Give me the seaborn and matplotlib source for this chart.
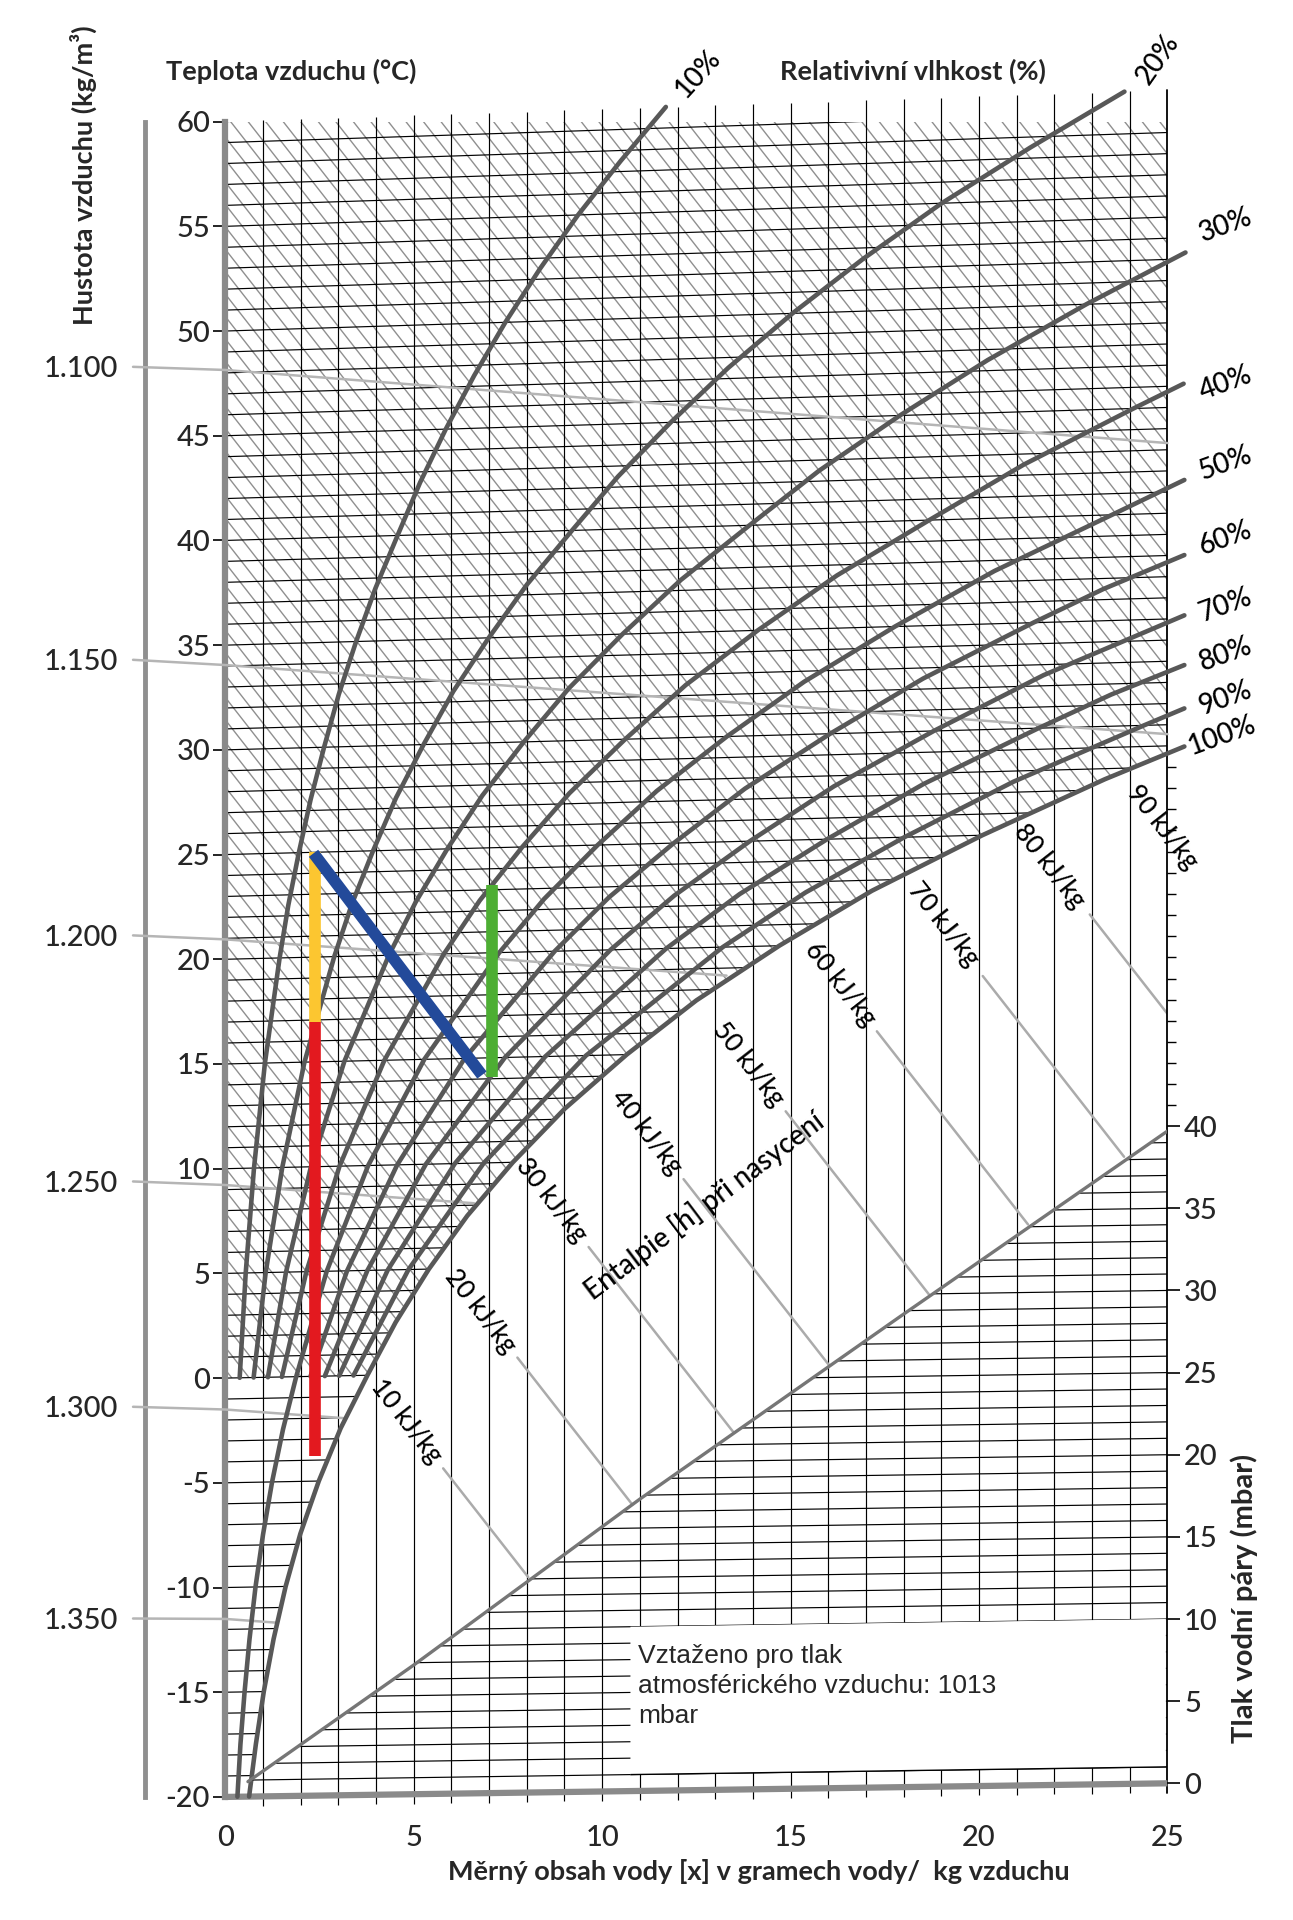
import numpy as np
import matplotlib
matplotlib.use("Agg")
import matplotlib.pyplot as plt
import seaborn as sns
from matplotlib.collections import LineCollection
from matplotlib.patches import Polygon
from matplotlib import font_manager

# osy
t_ticks = list(range(-20, 61, 5))
x_ticks = [0, 5, 10, 15, 20, 25]
p_ticks = [0, 5, 10, 15, 20, 25, 30, 35, 40]

# krivky relativni vlhkosti: teplota [°C] a merny obsah vody [g/kg]
rh10_t = [0, 5, 10, 15, 20, 22.5, 25, 27.5, 30, 32.5, 35, 37.5, 40, 42.5, 45, 47.5, 50, 52.5, 55, 57.5, 60]
rh10_x = [0.38, 0.54, 0.76, 1.05, 1.44, 1.67, 1.95, 2.26, 2.62, 3.01, 3.47, 3.98, 4.57, 5.17, 5.85,
          6.60, 7.43, 8.35, 9.36, 10.49, 11.69]
rh20_t = [0, 5, 10, 15, 20, 22.5, 25, 27.5, 30, 32.5, 35, 37.5, 40, 42.5, 45, 47.5, 50, 52.5, 55, 57.5, 60]
rh20_x = [0.75, 1.07, 1.51, 2.10, 2.89, 3.36, 3.92, 4.53, 5.26, 6.05, 6.99, 8.01, 9.20, 10.42, 11.82,
          13.34, 15.05, 16.94, 19.01, 21.36, 23.86]
rh30_t = [0, 5, 10, 15, 20, 22.5, 25, 27.5, 30, 32.5, 35, 37.5, 40, 42.5, 45, 47.5, 50, 52.3]
rh30_x = [1.13, 1.61, 2.27, 3.16, 4.34, 5.05, 5.89, 6.82, 7.92, 9.12, 10.54, 12.09, 13.91, 15.76, 17.90,
          20.23, 22.85, 25.48]
rh40_t = [0, 5, 10, 15, 20, 22.5, 25, 27.5, 30, 32.5, 35, 37.5, 40, 42.5, 45, 46.1]
rh40_x = [1.50, 2.15, 3.03, 4.22, 5.80, 6.75, 7.88, 9.13, 10.61, 12.22, 14.13, 16.23, 18.68, 21.19, 24.10, 25.43]
rh50_t = [-20, -17.5, -15, -12.5, -10, -7.5, -5, -2.5, 0, 5, 10, 15, 20, 22.5, 25, 27.5, 30, 32.5, 35,
          37.5, 40, 41.55]
rh50_x = [0.32, 0.40, 0.51, 0.64, 0.80, 1.00, 1.24, 1.53, 1.88, 2.69, 3.79, 5.28, 7.27, 8.46, 9.88, 11.45,
          13.31, 15.36, 17.77, 20.41, 23.53, 25.45]
rh60_t = [0, 5, 10, 15, 20, 22.5, 25, 27.5, 30, 32.5, 35, 36.5, 38.0]
rh60_x = [2.26, 3.23, 4.56, 6.35, 8.74, 10.18, 11.90, 13.79, 16.05, 18.52, 21.44, 23.30, 25.45]
rh70_t = [0, 5, 10, 15, 20, 22.5, 25, 27.5, 30, 32.5, 35.15]
rh70_x = [2.64, 3.77, 5.32, 7.42, 10.22, 11.91, 13.92, 16.15, 18.80, 21.71, 25.45]
rh80_t = [0, 5, 10, 15, 20, 22.5, 25, 27.5, 30, 31.5, 32.8]
rh80_x = [3.02, 4.31, 6.09, 8.49, 11.70, 13.65, 15.97, 18.53, 21.58, 23.51, 25.45]
rh90_t = [0, 5, 10, 15, 20, 22.5, 25, 27.5, 30, 30.75]
rh90_x = [3.40, 4.86, 6.86, 9.57, 13.20, 15.40, 18.02, 20.92, 24.38, 25.45]
rh100_t = [-20, -17.5, -15, -12.5, -10, -7.5, -5, -2.5, 0, 2.5, 5, 7.5, 10, 12.5, 15, 17.5, 20, 22.5, 25,
           27.5, 28.95]
rh100_x = [0.63, 0.81, 1.02, 1.28, 1.60, 1.99, 2.48, 3.06, 3.77, 4.52, 5.40, 6.42, 7.63, 9.01, 10.65, 12.50,
           14.70, 17.16, 20.09, 23.34, 25.45]

rh_names = ["10%", "20%", "30%", "40%", "50%", "60%", "70%", "80%", "90%", "100%"]
rh_label_x = [12.55, 24.74, 26.55, 26.55, 26.55, 26.55, 26.55, 26.55, 26.55, 26.45]
rh_label_y = [62.28, 62.99, 55.04, 47.49, 43.71, 40.13, 36.92, 34.56, 32.48, 30.70]
rh_label_rot = [48, 55, 20, 20, 20, 20, 20, 20, 20, 20]

# entalpie pod krivkou nasyceni
h_names = ["10 kJ/kg", "20 kJ/kg", "30 kJ/kg", "40 kJ/kg", "50 kJ/kg",
           "60 kJ/kg", "70 kJ/kg", "80 kJ/kg", "90 kJ/kg"]
h_label_x = [4.80, 6.76, 8.66, 11.18, 13.89, 16.31, 19.05, 21.86, 24.87]
h_label_y = [-2.07, 3.21, 8.50, 11.74, 14.97, 18.79, 21.67, 24.43, 26.31]
h_line_x0 = [5.78, 7.75, 9.64, 12.16, 14.87, 17.29, 20.10, 22.94]
h_line_y0 = [-4.31, 0.98, 6.26, 9.50, 12.74, 16.56, 19.20, 22.14]
h_line_x1 = [8.04, 10.80, 13.49, 16.02, 18.67, 21.30, 23.85, 25.00]
h_line_y1 = [-9.51, -6.04, -2.60, 0.62, 4.00, 7.34, 10.57, 17.40]

# hustota vzduchu
rho_names = ["1.100", "1.150", "1.200", "1.250", "1.300", "1.350"]
rho_y_left = [48.29, 34.30, 21.14, 9.39, -1.37, -11.48]
rho_y_axis = [48.14, 34.05, 20.95, 9.22, -1.50, -11.50]
rho_x_end = [25.0, 25.0, 13.3, 6.6, 3.2, 1.37]
rho_y_end = [44.65, 30.75, 19.22, 8.35, -1.92, -11.68]

# tlak vodni pary [mbar] podel x
vp_x = [0.6, 5.0, 11.0, 17.9, 25.0]
vp_p = [0.1, 7.2, 17.3, 28.4, 39.7]

# zmeny stavu
yellow_x, yellow_y = [2.37, 2.37], [25.1, 17.0]
red_x, red_y = [2.38, 2.38], [17.0, -3.7]
blue_x, blue_y = [2.34, 6.81], [25.06, 14.47]
green_x, green_y = [7.07, 7.07], [14.39, 23.55]


def mollier_y(t, x):
    """Sikma souradnice izotermy v diagramu h-x."""
    t = np.asarray(t, dtype=float)
    x = np.asarray(x, dtype=float)
    return t + (0.036 + 0.0004 * t) * x


sns.set_theme(style="ticks")
plt.rcParams["font.family"] = ["Lato", "DejaVu Sans"]
plt.rcParams["axes.unicode_minus"] = False
names = {f.name for f in font_manager.fontManager.ttflist}
box_font = "Liberation Sans"
TICK = 21
W_TXT = "medium"

fig = plt.figure(figsize=(12.93, 19.2), dpi=100)
ax = fig.add_axes([0.17429, 0.0641, 0.72857, 0.87256])
ax.set_xlim(0, 25)
ax.set_ylim(-20, 60)

# srafovani entalpie (jen nenasycena oblast nad 0 °C)
sat_xy = [(x, float(mollier_y(t, x))) for t, x in zip(rh100_t, rh100_x) if t >= 0 and x <= 25]
clip_verts = [(0, 0), (0, 60), (25, float(mollier_y(60, 25))), (25, 29.9)] + sat_xy[::-1]
clip_poly = Polygon(clip_verts, closed=True, transform=ax.transData, facecolor="none", edgecolor="none")
ax.add_patch(clip_poly)
hatch = [[(0, c), (25, c - 2.3 * 25)] for c in np.arange(0.4, 122, 1.07)]
hc = LineCollection(hatch, colors="#8f8f8f", linewidths=1.0, zorder=1)
ax.add_collection(hc)
hc.set_clip_path(clip_poly)

# izotermy po 1 °C
iso = []
for t in range(-19, 61):
    x_end = 25.0 if t > 28.7 else min(25.0, float(np.interp(t, rh100_t, rh100_x)))
    iso.append([(0, float(mollier_y(t, 0))), (x_end, float(mollier_y(t, x_end)))])
ax.add_collection(LineCollection(iso, colors="black", linewidths=0.85, zorder=2))

# svisle cary po 1 g/kg
vert = [[(g, -20 + 0.026 * g - 0.45), (g, float(mollier_y(60, g)))] for g in range(1, 25)]
ax.add_collection(LineCollection(vert, colors="black", linewidths=0.85, zorder=2, clip_on=False))
ax.plot([25, 25], [-19.35 - 0.45, float(mollier_y(60, 25))], color="black", lw=1.3, clip_on=False, zorder=3)
stubs = [[(25, float(mollier_y(t, 25))), (25.22, float(mollier_y(t, 25)))] for t in range(12, 29)]
ax.add_collection(LineCollection(stubs, colors="black", linewidths=1.0, zorder=3, clip_on=False))

# spodni okraj (0 mbar)
ax.plot([0, 25], [-20, -19.35], color="#8a8a8a", lw=4.5, clip_on=False, zorder=3, solid_capstyle="butt")

# hustota
for ya, yb, xe, ye in zip(rho_y_left, rho_y_axis, rho_x_end, rho_y_end):
    ax.plot([-2.45, 0, xe], [ya, yb, ye], color="#b5b5b5", lw=1.8, clip_on=False, zorder=3)

# entalpie v oblasti mlhy
for x0, y0, x1, y1 in zip(h_line_x0, h_line_y0, h_line_x1, h_line_y1):
    ax.plot([x0, x1], [y0, y1], color="#ababab", lw=1.8, zorder=2)
for name, lx, ly in zip(h_names, h_label_x, h_label_y):
    ax.text(lx, ly, name, rotation=-52, rotation_mode="anchor", ha="center", va="center",
            fontsize=18.5, fontweight=W_TXT, color="black", zorder=7)
ax.text(12.71, 8.21, "Entalpie [h] při nasycení", rotation=37, rotation_mode="anchor",
        ha="center", va="center", fontsize=20, fontweight=W_TXT, color="black", zorder=7)

# krivky relativni vlhkosti
curves = [(rh10_t, rh10_x), (rh20_t, rh20_x), (rh30_t, rh30_x), (rh40_t, rh40_x), (rh50_t, rh50_x),
          (rh60_t, rh60_x), (rh70_t, rh70_x), (rh80_t, rh80_x), (rh90_t, rh90_x), (rh100_t, rh100_x)]
for ts, xs in curves:
    sns.lineplot(x=xs, y=mollier_y(ts, xs), sort=False, estimator=None, ax=ax, color="#585858",
                 linewidth=3.3, clip_on=False, zorder=5)
for name, lx, ly, rot in zip(rh_names, rh_label_x, rh_label_y, rh_label_rot):
    ax.text(lx, ly, name, rotation=rot, rotation_mode="anchor", ha="center", va="center",
            fontsize=20, fontweight=W_TXT, color="black")

# zmeny stavu vzduchu
for xs, ys, col in [(red_x, red_y, "#e3191f"), (yellow_x, yellow_y, "#fcc630"),
                    (green_x, green_y, "#4dae33"), (blue_x, blue_y, "#234a9a")]:
    sns.lineplot(x=xs, y=ys, sort=False, estimator=None, ax=ax, color=col, linewidth=8.4,
                 solid_capstyle="butt", zorder=6)

# osy
for side in ["top", "right", "bottom"]:
    ax.spines[side].set_visible(False)
ax.spines["left"].set_color("#8a8a8a")
ax.spines["left"].set_linewidth(4.5)
ax.set_yticks(t_ticks)
ax.set_xticks(x_ticks)
ax.tick_params(axis="y", left=True, length=9, width=1.2, color="black", labelsize=TICK, pad=2)
ax.tick_params(axis="x", bottom=True, length=0, labelsize=TICK, pad=20)
ax.set_xlabel("")
ax.set_ylabel("")

dens = ax.secondary_yaxis(-2.12 / 25)
dens.set_yticks(rho_y_left, labels=rho_names)
dens.tick_params(length=0, pad=20, labelsize=TICK)
dens.spines["left"].set_color("#8f8f8f")
dens.spines["left"].set_linewidth(3.5)

# tlak vodni pary na prave ose
tw = ax.twinx()
tw.set_ylim(-0.83, 101.15)
for side in tw.spines:
    tw.spines[side].set_visible(False)
tw.set_yticks(p_ticks)
tw.tick_params(axis="y", right=True, length=9, width=1.2, color="black", labelsize=TICK, pad=3)

for a in (ax, dens, tw):
    for lab in a.get_yticklabels() + a.get_xticklabels():
        lab.set_fontweight(W_TXT)

press = []
for k in range(1, 40):
    xl = float(np.interp(k, vp_p, vp_x))
    xl = float(np.interp(k - 0.033 * (25 - xl), vp_p, vp_x))
    press.append([(xl, k - 0.033 * (25 - xl)), (25, k)])
tw.add_collection(LineCollection(press, colors="black", linewidths=0.85, zorder=2))
tw.plot(vp_x, vp_p, color="#767676", lw=2.4, zorder=5)

box = Polygon([(10.75, 10 - 0.033 * 14.25), (24.96, 10), (24.96, 1), (10.75, 1 - 0.033 * 14.25)],
              closed=True, facecolor="white", edgecolor="none", zorder=3)
tw.add_patch(box)
tw.add_collection(LineCollection([[(10.75, 1 - 0.033 * 14.25), (25, 1)]], colors="black",
                                 linewidths=1.0, zorder=4))
tw.text(10.95, 8.45, "Vztaženo pro tlak\natmosférického vzduchu: 1013\nmbar", ha="left", va="top",
        fontsize=19, family=box_font, linespacing=1.3, zorder=6)

# popisky
fig.text(0.1286, 0.9628, "Teplota vzduchu (°C)", ha="left", va="center", fontsize=19.5, fontweight="bold")
fig.text(0.7057, 0.9628, "Relativivní vlhkost (%)", ha="center", va="center", fontsize=19.5,
         fontweight="bold")
fig.text(0.0643, 0.909, "Hustota vzduchu (kg/m³)", rotation=90, ha="center", va="center",
         fontsize=19.5, fontweight="bold")
fig.text(0.9619, 0.1675, "Tlak vodní páry (mbar)", rotation=90, ha="center", va="center",
         fontsize=21, fontweight="bold")
fig.text(0.5867, 0.025, "Měrný obsah vody [x] v gramech vody/  kg vzduchu", ha="center", va="center",
         fontsize=19.5, fontweight="bold")

fig.savefig("out.png", dpi=100, facecolor="white")
